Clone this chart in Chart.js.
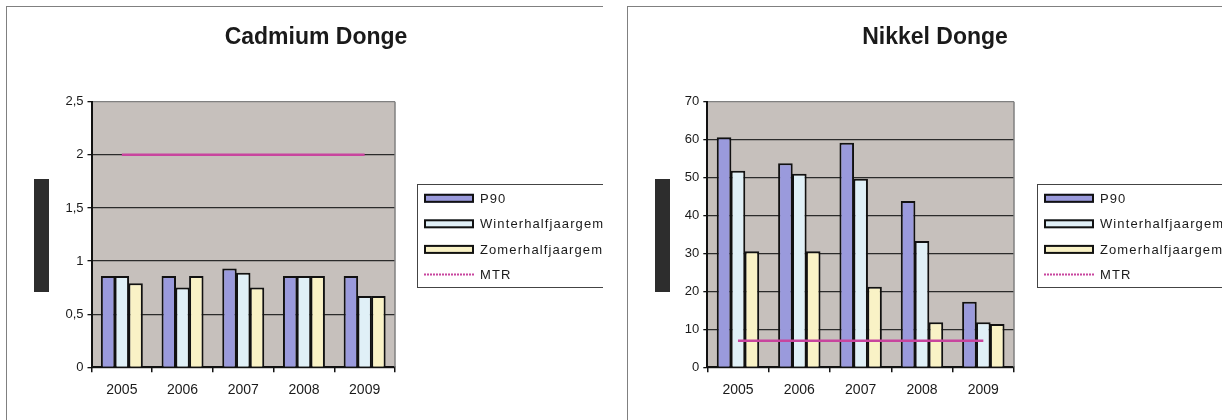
<!DOCTYPE html>
<html>
<head>
<meta charset="utf-8">
<script src="https://cdn.jsdelivr.net/npm/chart.js@4.4.1/dist/chart.umd.min.js"></script>
<style>
  html, body { margin: 0; padding: 0; background: #ffffff; width: 1232px; height: 420px; overflow: hidden; }
  .frame { position: absolute; top: 6px; height: 414px; border-left: 1px solid #808080; border-top: 1px solid #808080; overflow: hidden; }
  #f1 { left: 6px; width: 596px; }
  #f2 { left: 627px; width: 594px; }
  canvas { position: absolute; left: 0; top: 0; }
</style>
</head>
<body>
<div class="frame" id="f1"><canvas id="c1" width="618" height="413"></canvas></div>
<div class="frame" id="f2"><canvas id="c2" width="616" height="413"></canvas></div>
<script>
// Measurement years (categories)
const years = ['2005', '2006', '2007', '2008', '2009'];
const seriesLabels = ['P90', 'Winterhalfjaargemiddelde', 'Zomerhalfjaargemiddelde', 'MTR'];

// Cadmium
const cdP90    = [0.86, 0.86, 0.93, 0.86, 0.86];
const cdWinter = [0.86, 0.75, 0.89, 0.86, 0.67];
const cdZomer  = [0.79, 0.86, 0.75, 0.86, 0.67];
const cdMTR    = [2, 2, 2, 2, 2];
const cdTickLabels = ['0', '0,5', '1', '1,5', '2', '2,5'];

// Nikkel
const niP90    = [60.6, 53.8, 59.2, 43.8, 17.3];
const niWinter = [51.8, 51.0, 49.7, 33.3, 11.9];
const niZomer  = [30.6, 30.6, 21.2, 11.9, 11.4];
const niMTR    = [7, 7, 7, 7, 7];
const niTickLabels = ['0', '10', '20', '30', '40', '50', '60', '70'];

const FONT = "'Liberation Sans', Arial, sans-serif";
const COLORS = { p90: '#9a9adc', winter: '#e0f0f7', zomer: '#f9f2c6', mtr: '#c8459e', plot: '#c6c0bc' };

function decorPlugin(cfg) {
  return {
    id: 'decor',
    beforeDraw(chart) {
      const { ctx, chartArea: a } = chart;
      ctx.save();
      ctx.fillStyle = COLORS.plot;
      ctx.fillRect(a.left, a.top, a.right - a.left, a.bottom - a.top);
      ctx.restore();
    },
    beforeDatasetsDraw(chart) {
      const { ctx, chartArea: a } = chart;
      ctx.save();
      ctx.strokeStyle = '#808080';
      ctx.lineWidth = 1.5;
      ctx.beginPath();
      ctx.moveTo(a.right, a.top);
      ctx.lineTo(a.right, a.bottom);
      ctx.stroke();
      ctx.restore();
    },
    afterDraw(chart) {
      const ctx = chart.ctx;
      ctx.save();
      // title
      ctx.fillStyle = '#1a1a1a';
      ctx.font = 'bold 23px ' + FONT;
      ctx.textAlign = 'center';
      ctx.textBaseline = 'middle';
      ctx.fillText(cfg.title, cfg.titleX, 31);

      // axis title block
      ctx.fillStyle = '#2d2d2d';
      ctx.fillRect(27, 172, 15, 113);

      // legend
      const L = cfg.legendX;
      ctx.strokeStyle = '#444';
      ctx.lineWidth = 1;
      ctx.strokeRect(L + 0.5, 177.5, 400, 103);
      const rows = [191.3, 216.8, 242.4, 267.6];
      const ds = chart.data.datasets;
      const order = [1, 2, 3, 0];
      ctx.font = '13px ' + FONT;
      ctx.textAlign = 'left';
      ctx.textBaseline = 'middle';
      if ('letterSpacing' in ctx) ctx.letterSpacing = '1.1px';
      order.forEach((di, r) => {
        const d = ds[di];
        const y = rows[r];
        if (d.type === 'line') {
          ctx.strokeStyle = d.borderColor;
          ctx.lineWidth = 2;
          ctx.setLineDash([2, 1]);
          ctx.beginPath();
          ctx.moveTo(L + 7, y);
          ctx.lineTo(L + 57, y);
          ctx.stroke();
          ctx.setLineDash([]);
        } else {
          ctx.fillStyle = d.backgroundColor;
          ctx.fillRect(L + 7, y - 4.5, 50, 9);
          ctx.strokeStyle = '#111';
          ctx.lineWidth = 2;
          ctx.strokeRect(L + 8, y - 3.5, 48, 7);
        }
        ctx.fillStyle = '#1a1a1a';
        ctx.fillText(d.label, L + 63, y + 1);
      });
      ctx.restore();
    }
  };
}

function makeChart(id, cfg) {
  const canvas = document.getElementById(id);
  const H = canvas.height, W = canvas.width;
  const barBase = { type: 'bar', borderColor: '#111', borderWidth: 2, borderSkipped: 'start', categoryPercentage: 0.68, barPercentage: 1.05, order: 1 };
  return new Chart(canvas, {
    data: {
      labels: years,
      datasets: [
        { type: 'line', label: seriesLabels[3], data: cfg.mtr, borderColor: COLORS.mtr, borderWidth: 2.5, pointRadius: 0, fill: false, order: 0 },
        Object.assign({ label: seriesLabels[0], data: cfg.p90, backgroundColor: COLORS.p90 }, barBase),
        Object.assign({ label: seriesLabels[1], data: cfg.winter, backgroundColor: COLORS.winter }, barBase),
        Object.assign({ label: seriesLabels[2], data: cfg.zomer, backgroundColor: COLORS.zomer }, barBase)
      ]
    },
    options: {
      responsive: false,
      animation: false,
      events: [],
      layout: { padding: { top: cfg.plotTop, right: W - cfg.plotRight, left: 0, bottom: 0 } },
      plugins: { legend: { display: false }, title: { display: false }, tooltip: { enabled: false } },
      scales: {
        x: {
          type: 'category',
          offset: true,
          grid: { offset: true, drawOnChartArea: false, drawTicks: true, tickLength: 5, tickColor: '#111', lineWidth: 1.5 },
          border: { color: '#111', width: 2 },
          ticks: { font: { family: FONT, size: 14 }, color: '#1a1a1a', padding: 9, maxRotation: 0 },
          afterFit(s) { s.height = H - cfg.plotBottom; }
        },
        y: {
          min: 0,
          max: cfg.max,
          ticks: {
            stepSize: cfg.step,
            font: { family: FONT, size: 13 },
            color: '#1a1a1a',
            padding: 4,
            callback: (v, i) => cfg.tickLabels[i]
          },
          grid: {
            color: (c) => (c.tick && c.tick.value === cfg.max) ? '#808080' : '#2b2b2b',
            lineWidth: 1.3,
            tickLength: 4,
            tickColor: '#111'
          },
          border: { color: '#111', width: 2 },
          afterFit(s) { s.width = cfg.plotLeft; }
        }
      }
    },
    plugins: [decorPlugin(cfg)]
  });
}

makeChart('c1', {
  title: 'Cadmium Donge', titleX: 309, legendX: 410,
  p90: cdP90, winter: cdWinter, zomer: cdZomer, mtr: cdMTR,
  max: 2.5, step: 0.5, tickLabels: cdTickLabels,
  plotLeft: 84.5, plotRight: 388, plotTop: 94.7, plotBottom: 360.3
});

makeChart('c2', {
  title: 'Nikkel Donge', titleX: 307, legendX: 409,
  p90: niP90, winter: niWinter, zomer: niZomer, mtr: niMTR,
  max: 70, step: 10, tickLabels: niTickLabels,
  plotLeft: 79.3, plotRight: 386, plotTop: 94.7, plotBottom: 360.3
});
</script>
</body>
</html>
